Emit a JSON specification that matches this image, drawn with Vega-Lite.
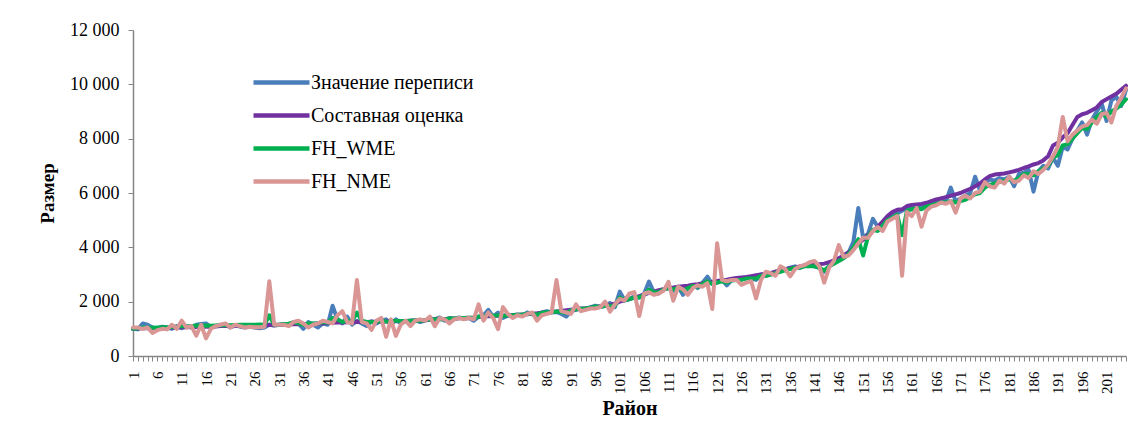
{
  "$schema": "https://vega.github.io/schema/vega-lite/v6.json",
  "width": 993,
  "height": 326,
  "autosize": {"type": "none"},
  "padding": {"left": 133, "top": 30, "right": 11, "bottom": 67},
  "background": "white",
  "config": {
    "view": {"stroke": null},
    "font": "Liberation Serif",
    "legend": {"labelFont": "Liberation Serif", "labelFontSize": 20, "labelColor": "#000000"},
    "axis": {"grid": false, "domainColor": "#868686", "tickColor": "#868686", "labelColor": "#000000", "titleColor": "#000000", "labelFont": "Liberation Serif", "titleFont": "Liberation Serif", "domainWidth": 1.5, "tickWidth": 1}
  },
  "data": {"values": [
{"d":1,"b":1000,"p":1000,"g":1000,"n":1050},
{"d":2,"b":980,"p":1010,"g":1020,"n":1050},
{"d":3,"b":1200,"p":1020,"g":1050,"n":1000},
{"d":4,"b":1150,"p":1020,"g":1040,"n":1050},
{"d":5,"b":1050,"p":1030,"g":1040,"n":850},
{"d":6,"b":1000,"p":1030,"g":1050,"n":950},
{"d":7,"b":1080,"p":1040,"g":1060,"n":1000},
{"d":8,"b":1050,"p":1040,"g":1060,"n":980},
{"d":9,"b":1000,"p":1050,"g":1070,"n":1150},
{"d":10,"b":1100,"p":1050,"g":1080,"n":1000},
{"d":11,"b":1020,"p":1060,"g":1100,"n":1300},
{"d":12,"b":1100,"p":1060,"g":1090,"n":1050},
{"d":13,"b":1050,"p":1070,"g":1100,"n":1100},
{"d":14,"b":1150,"p":1070,"g":1120,"n":750},
{"d":15,"b":1180,"p":1080,"g":1110,"n":1150},
{"d":16,"b":1200,"p":1080,"g":1120,"n":650},
{"d":17,"b":1050,"p":1090,"g":1110,"n":1000},
{"d":18,"b":1100,"p":1090,"g":1120,"n":1100},
{"d":19,"b":1150,"p":1100,"g":1130,"n":1150},
{"d":20,"b":1150,"p":1100,"g":1140,"n":1200},
{"d":21,"b":1050,"p":1100,"g":1130,"n":1050},
{"d":22,"b":1120,"p":1110,"g":1140,"n":1150},
{"d":23,"b":1080,"p":1110,"g":1150,"n":1100},
{"d":24,"b":1050,"p":1110,"g":1150,"n":1050},
{"d":25,"b":1080,"p":1120,"g":1150,"n":1080},
{"d":26,"b":1050,"p":1120,"g":1150,"n":1060},
{"d":27,"b":1020,"p":1120,"g":1160,"n":1060},
{"d":28,"b":1050,"p":1130,"g":1150,"n":1080},
{"d":29,"b":1150,"p":1150,"g":1500,"n":2750},
{"d":30,"b":1120,"p":1130,"g":1150,"n":1150},
{"d":31,"b":1150,"p":1140,"g":1150,"n":1150},
{"d":32,"b":1180,"p":1150,"g":1180,"n":1150},
{"d":33,"b":1150,"p":1160,"g":1190,"n":1100},
{"d":34,"b":1220,"p":1170,"g":1250,"n":1250},
{"d":35,"b":1200,"p":1170,"g":1200,"n":1300},
{"d":36,"b":1000,"p":1180,"g":1150,"n":1200},
{"d":37,"b":1250,"p":1180,"g":1200,"n":1050},
{"d":38,"b":1150,"p":1190,"g":1200,"n":1150},
{"d":39,"b":1050,"p":1200,"g":1200,"n":1200},
{"d":40,"b":1200,"p":1200,"g":1250,"n":1300},
{"d":41,"b":1150,"p":1210,"g":1230,"n":1250},
{"d":42,"b":1850,"p":1220,"g":1400,"n":1200},
{"d":43,"b":1350,"p":1230,"g":1350,"n":1500},
{"d":44,"b":1200,"p":1230,"g":1250,"n":1650},
{"d":45,"b":1450,"p":1240,"g":1300,"n":1250},
{"d":46,"b":1150,"p":1240,"g":1280,"n":1200},
{"d":47,"b":1300,"p":1260,"g":1600,"n":2800},
{"d":48,"b":1200,"p":1250,"g":1300,"n":1250},
{"d":49,"b":1100,"p":1250,"g":1250,"n":1200},
{"d":50,"b":1280,"p":1260,"g":1250,"n":960},
{"d":51,"b":1200,"p":1260,"g":1260,"n":1300},
{"d":52,"b":1300,"p":1270,"g":1300,"n":1400},
{"d":53,"b":1350,"p":1270,"g":1270,"n":710},
{"d":54,"b":1150,"p":1280,"g":1250,"n":1350},
{"d":55,"b":1350,"p":1280,"g":1300,"n":740},
{"d":56,"b":1200,"p":1290,"g":1290,"n":1150},
{"d":57,"b":1280,"p":1290,"g":1280,"n":1300},
{"d":58,"b":1300,"p":1300,"g":1300,"n":1100},
{"d":59,"b":1320,"p":1300,"g":1310,"n":1300},
{"d":60,"b":1250,"p":1310,"g":1300,"n":1350},
{"d":61,"b":1300,"p":1320,"g":1320,"n":1300},
{"d":62,"b":1380,"p":1330,"g":1350,"n":1450},
{"d":63,"b":1350,"p":1340,"g":1340,"n":1100},
{"d":64,"b":1420,"p":1350,"g":1360,"n":1400},
{"d":65,"b":1300,"p":1360,"g":1340,"n":1350},
{"d":66,"b":1400,"p":1370,"g":1380,"n":1200},
{"d":67,"b":1350,"p":1380,"g":1380,"n":1350},
{"d":68,"b":1420,"p":1390,"g":1400,"n":1400},
{"d":69,"b":1380,"p":1400,"g":1400,"n":1350},
{"d":70,"b":1400,"p":1410,"g":1410,"n":1400},
{"d":71,"b":1300,"p":1420,"g":1400,"n":1350},
{"d":72,"b":1450,"p":1440,"g":1450,"n":1900},
{"d":73,"b":1500,"p":1450,"g":1450,"n":1300},
{"d":74,"b":1700,"p":1460,"g":1550,"n":1600},
{"d":75,"b":1450,"p":1470,"g":1470,"n":1400},
{"d":76,"b":1600,"p":1480,"g":1500,"n":990},
{"d":77,"b":1400,"p":1490,"g":1470,"n":1800},
{"d":78,"b":1480,"p":1500,"g":1500,"n":1550},
{"d":79,"b":1500,"p":1510,"g":1500,"n":1400},
{"d":80,"b":1520,"p":1520,"g":1520,"n":1500},
{"d":81,"b":1480,"p":1530,"g":1520,"n":1450},
{"d":82,"b":1600,"p":1540,"g":1560,"n":1550},
{"d":83,"b":1550,"p":1560,"g":1560,"n":1600},
{"d":84,"b":1400,"p":1570,"g":1520,"n":1300},
{"d":85,"b":1600,"p":1590,"g":1590,"n":1500},
{"d":86,"b":1650,"p":1600,"g":1610,"n":1550},
{"d":87,"b":1600,"p":1620,"g":1610,"n":1600},
{"d":88,"b":1620,"p":1640,"g":1640,"n":2800},
{"d":89,"b":1550,"p":1660,"g":1620,"n":1650},
{"d":90,"b":1450,"p":1680,"g":1580,"n":1600},
{"d":91,"b":1650,"p":1700,"g":1680,"n":1550},
{"d":92,"b":1700,"p":1720,"g":1720,"n":1900},
{"d":93,"b":1750,"p":1740,"g":1740,"n":1650},
{"d":94,"b":1720,"p":1760,"g":1750,"n":1700},
{"d":95,"b":1800,"p":1780,"g":1780,"n":1750},
{"d":96,"b":1850,"p":1800,"g":1820,"n":1750},
{"d":97,"b":1800,"p":1830,"g":1800,"n":1800},
{"d":98,"b":1850,"p":1860,"g":1850,"n":2000},
{"d":99,"b":1950,"p":1890,"g":1850,"n":1630},
{"d":100,"b":1800,"p":1920,"g":1850,"n":1900},
{"d":101,"b":2370,"p":2000,"g":2150,"n":2100},
{"d":102,"b":2050,"p":2050,"g":2050,"n":2050},
{"d":103,"b":2100,"p":2100,"g":2100,"n":2300},
{"d":104,"b":2200,"p":2150,"g":2150,"n":2350},
{"d":105,"b":2150,"p":2200,"g":2150,"n":1470},
{"d":106,"b":2300,"p":2260,"g":2250,"n":2300},
{"d":107,"b":2740,"p":2320,"g":2450,"n":2350},
{"d":108,"b":2350,"p":2370,"g":2350,"n":2250},
{"d":109,"b":2300,"p":2420,"g":2350,"n":2300},
{"d":110,"b":2450,"p":2460,"g":2450,"n":2400},
{"d":111,"b":2500,"p":2500,"g":2500,"n":2730},
{"d":112,"b":2400,"p":2520,"g":2450,"n":2035},
{"d":113,"b":2550,"p":2550,"g":2520,"n":2550},
{"d":114,"b":2250,"p":2570,"g":2400,"n":2450},
{"d":115,"b":2500,"p":2590,"g":2500,"n":2250},
{"d":116,"b":2600,"p":2620,"g":2580,"n":2500},
{"d":117,"b":2500,"p":2640,"g":2550,"n":2600},
{"d":118,"b":2700,"p":2670,"g":2650,"n":2550},
{"d":119,"b":2920,"p":2700,"g":2750,"n":2680},
{"d":120,"b":2650,"p":2720,"g":2650,"n":1730},
{"d":121,"b":2700,"p":2760,"g":2700,"n":4150},
{"d":122,"b":2800,"p":2790,"g":2750,"n":2800},
{"d":123,"b":2600,"p":2810,"g":2700,"n":2750},
{"d":124,"b":2800,"p":2840,"g":2780,"n":2800},
{"d":125,"b":2850,"p":2870,"g":2800,"n":2800},
{"d":126,"b":2850,"p":2890,"g":2800,"n":2620},
{"d":127,"b":2900,"p":2910,"g":2850,"n":2700},
{"d":128,"b":2850,"p":2940,"g":2850,"n":2750},
{"d":129,"b":2800,"p":2970,"g":2850,"n":2120},
{"d":130,"b":3000,"p":3000,"g":2950,"n":2800},
{"d":131,"b":2950,"p":3030,"g":2950,"n":3100},
{"d":132,"b":3000,"p":3060,"g":3000,"n":3050},
{"d":133,"b":3100,"p":3100,"g":3050,"n":2950},
{"d":134,"b":3150,"p":3150,"g":3100,"n":3300},
{"d":135,"b":3200,"p":3190,"g":3150,"n":3200},
{"d":136,"b":3250,"p":3230,"g":3200,"n":2930},
{"d":137,"b":3300,"p":3260,"g":3250,"n":3200},
{"d":138,"b":3250,"p":3300,"g":3250,"n":3300},
{"d":139,"b":3350,"p":3320,"g":3300,"n":3350},
{"d":140,"b":3350,"p":3340,"g":3300,"n":3450},
{"d":141,"b":3300,"p":3360,"g":3300,"n":3500},
{"d":142,"b":3250,"p":3380,"g":3250,"n":3300},
{"d":143,"b":3100,"p":3400,"g":3150,"n":2700},
{"d":144,"b":3300,"p":3450,"g":3300,"n":3250},
{"d":145,"b":3450,"p":3520,"g":3400,"n":3500},
{"d":146,"b":3550,"p":3600,"g":3500,"n":4080},
{"d":147,"b":3700,"p":3700,"g":3600,"n":3650},
{"d":148,"b":3800,"p":3820,"g":3750,"n":3700},
{"d":149,"b":4200,"p":3950,"g":4000,"n":3900},
{"d":150,"b":5450,"p":4150,"g":4300,"n":4150},
{"d":151,"b":4350,"p":4280,"g":3700,"n":4350},
{"d":152,"b":4500,"p":4450,"g":4400,"n":4350},
{"d":153,"b":5050,"p":4600,"g":4650,"n":4600},
{"d":154,"b":4750,"p":4750,"g":4600,"n":4750},
{"d":155,"b":4800,"p":4950,"g":4800,"n":4600},
{"d":156,"b":5100,"p":5150,"g":5000,"n":4950},
{"d":157,"b":5200,"p":5300,"g":5100,"n":5050},
{"d":158,"b":5250,"p":5380,"g":5200,"n":5150},
{"d":159,"b":5350,"p":5400,"g":4450,"n":2950},
{"d":160,"b":5450,"p":5520,"g":5350,"n":5300},
{"d":161,"b":5400,"p":5560,"g":5400,"n":5150},
{"d":162,"b":5450,"p":5580,"g":5450,"n":5450},
{"d":163,"b":5500,"p":5600,"g":5400,"n":4760},
{"d":164,"b":5550,"p":5640,"g":5500,"n":5350},
{"d":165,"b":5650,"p":5700,"g":5550,"n":5500},
{"d":166,"b":5700,"p":5760,"g":5600,"n":5550},
{"d":167,"b":5800,"p":5800,"g":5650,"n":5650},
{"d":168,"b":5700,"p":5850,"g":5650,"n":5600},
{"d":169,"b":6200,"p":5900,"g":5700,"n":5700},
{"d":170,"b":5700,"p":5950,"g":5650,"n":5280},
{"d":171,"b":5800,"p":6000,"g":5700,"n":5800},
{"d":172,"b":5900,"p":6080,"g":5750,"n":5900},
{"d":173,"b":6000,"p":6150,"g":5850,"n":5800},
{"d":174,"b":6600,"p":6250,"g":5950,"n":6000},
{"d":175,"b":6100,"p":6350,"g":6000,"n":6050},
{"d":176,"b":6350,"p":6500,"g":6200,"n":6400},
{"d":177,"b":6500,"p":6620,"g":6300,"n":6250},
{"d":178,"b":6450,"p":6680,"g":6350,"n":6200},
{"d":179,"b":6550,"p":6700,"g":6400,"n":6450},
{"d":180,"b":6500,"p":6720,"g":6450,"n":6350},
{"d":181,"b":6600,"p":6760,"g":6500,"n":6600},
{"d":182,"b":6250,"p":6800,"g":6450,"n":6400},
{"d":183,"b":6700,"p":6850,"g":6550,"n":6450},
{"d":184,"b":6750,"p":6920,"g":6700,"n":6650},
{"d":185,"b":6850,"p":6980,"g":6700,"n":6550},
{"d":186,"b":6050,"p":7050,"g":6650,"n":6800},
{"d":187,"b":6800,"p":7100,"g":6800,"n":6700},
{"d":188,"b":7000,"p":7200,"g":6900,"n":6850},
{"d":189,"b":6900,"p":7350,"g":7000,"n":7050},
{"d":190,"b":7300,"p":7750,"g":7300,"n":7350},
{"d":191,"b":7000,"p":7850,"g":7400,"n":7700},
{"d":192,"b":7700,"p":8050,"g":7750,"n":8800},
{"d":193,"b":7600,"p":8200,"g":7800,"n":7900},
{"d":194,"b":8000,"p":8500,"g":8000,"n":8150},
{"d":195,"b":8300,"p":8800,"g":8200,"n":8300},
{"d":196,"b":8600,"p":8900,"g":8400,"n":8450},
{"d":197,"b":8150,"p":8950,"g":8350,"n":8500},
{"d":198,"b":8700,"p":9050,"g":8600,"n":8700},
{"d":199,"b":9000,"p":9150,"g":8800,"n":8550},
{"d":200,"b":9300,"p":9350,"g":8950,"n":8900},
{"d":201,"b":8650,"p":9450,"g":8800,"n":8950},
{"d":202,"b":9400,"p":9550,"g":9000,"n":8600},
{"d":203,"b":9550,"p":9650,"g":9100,"n":9200},
{"d":204,"b":9200,"p":9800,"g":9250,"n":9500},
{"d":205,"b":9800,"p":9950,"g":9450,"n":9850}
  ]},
  "encoding": {
    "x": {"field": "d", "type": "ordinal", "sort": "ascending",
      "scale": {"type": "point", "padding": 0},
      "axis": {"title": "Район", "titleFontSize": 20, "titleFontWeight": "bold", "titlePadding": 5,
        "labelAngle": -90, "labelFontSize": 15, "labelPadding": 10, "tickSize": 5, "labelOverlap": false,
        "labelExpr": "(datum.value - 1) % 5 == 0 ? datum.label : ''"}},
    "color": {"scale": {"domain": ["Значение переписи", "Составная оценка", "FH_WME", "FH_NME"], "range": ["#4A7EBB", "#7030A0", "#00B050", "#D99694"]},
      "legend": {"title": null, "orient": "none", "legendX": 132, "legendY": 36, "symbolType": "M-2,0H2", "symbolSize": 784, "symbolStrokeWidth": 4.5, "symbolFillColor": "transparent", "labelFontSize": 20, "labelFont": "Liberation Serif", "labelColor": "#000000", "rowPadding": 6, "labelOffset": 13, "labelLimit": 400}}
  },
  "layer": [
    {"mark": {"type": "line", "strokeWidth": 4, "strokeJoin": "round", "strokeCap": "round"},
     "encoding": {"y": {"field": "b", "type": "quantitative", "scale": {"domain": [0, 12000], "nice": false},
        "axis": {"title": "Размер", "titleFontSize": 19, "titleFontWeight": "bold", "titlePadding": 12, "values": [0, 2000, 4000, 6000, 8000, 10000, 12000], "labelFontSize": 18, "labelPadding": 9, "tickSize": 5,
          "labelExpr": "replace(format(datum.value, ','), ',', ' ')"}},
       "color": {"datum": "Значение переписи"}}},
    {"mark": {"type": "line", "strokeWidth": 4, "strokeJoin": "round", "strokeCap": "round"},
     "encoding": {"y": {"field": "p", "type": "quantitative"}, "color": {"datum": "Составная оценка"}}},
    {"mark": {"type": "line", "strokeWidth": 4, "strokeJoin": "round", "strokeCap": "round"},
     "encoding": {"y": {"field": "g", "type": "quantitative"}, "color": {"datum": "FH_WME"}}},
    {"mark": {"type": "line", "strokeWidth": 4, "strokeJoin": "round", "strokeCap": "round"},
     "encoding": {"y": {"field": "n", "type": "quantitative"}, "color": {"datum": "FH_NME"}}}
  ]
}
